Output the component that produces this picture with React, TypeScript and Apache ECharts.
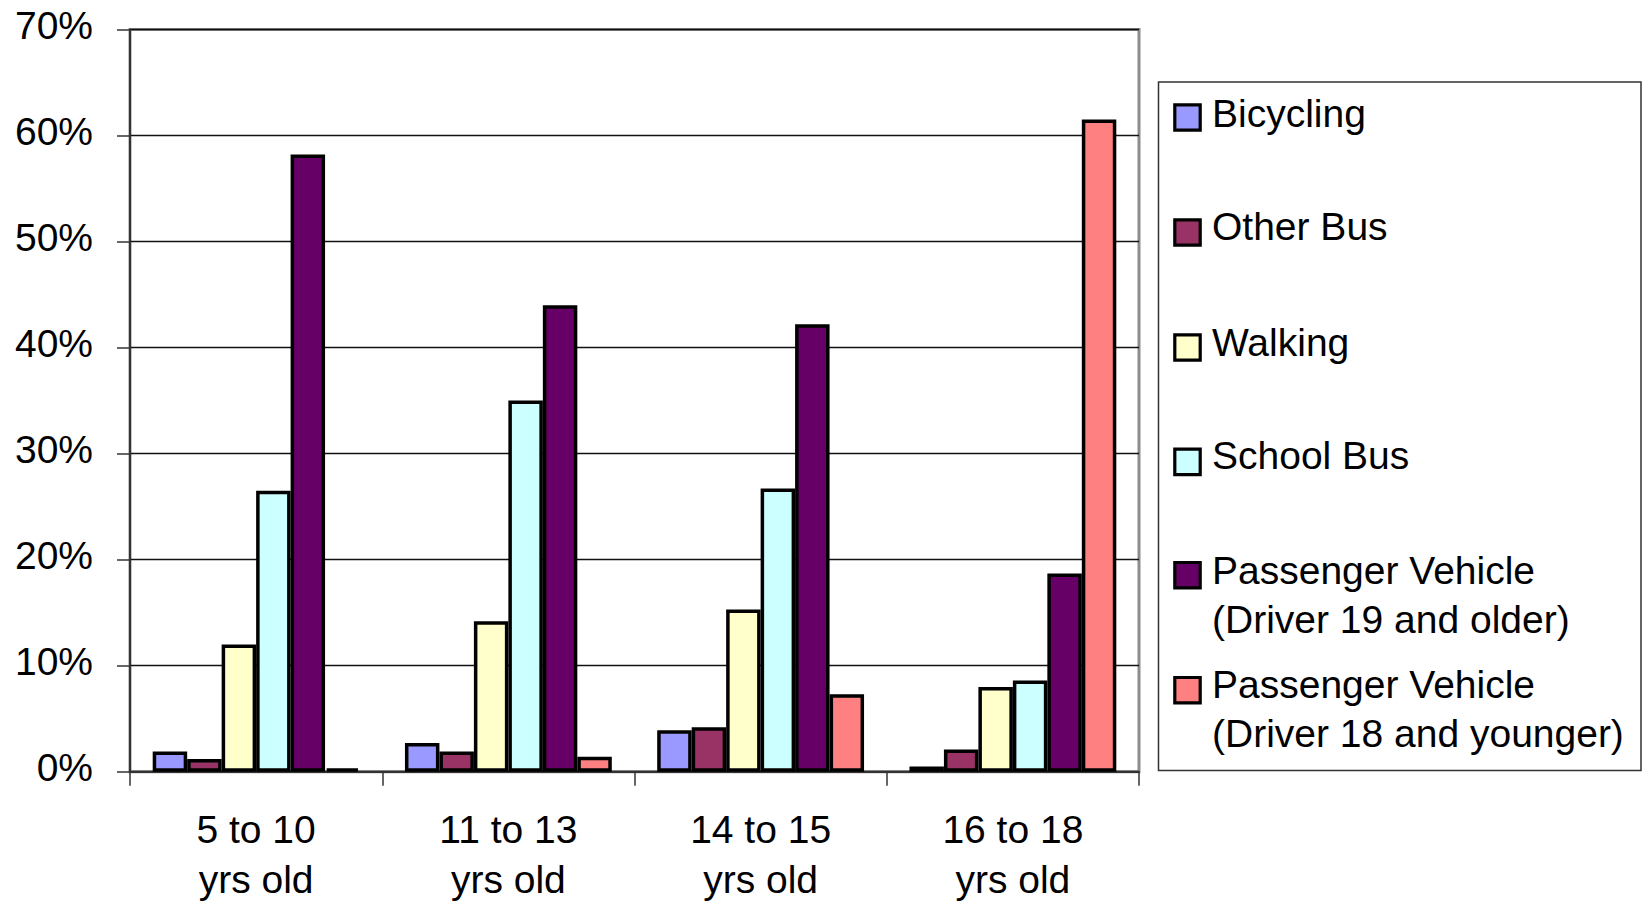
import React, { useEffect, useRef } from "react";
import * as echarts from "echarts";

const categories = ["5 to 10\nyrs old", "11 to 13\nyrs old", "14 to 15\nyrs old", "16 to 18\nyrs old"];
const seriesNames = [
  "Bicycling",
  "Other Bus",
  "Walking",
  "School Bus",
  "Passenger Vehicle\n(Driver 19 and older)",
  "Passenger Vehicle\n(Driver 18 and younger)",
];
const seriesColors = ["#9999FF", "#993366", "#FFFFCC", "#CCFFFF", "#660066", "#FF8080"];
const bicycling = [1.9, 2.7, 3.9, 0.5];
const otherBus = [1.2, 1.9, 4.2, 2.1];
const walking = [12.0, 14.2, 15.3, 8.0];
const schoolBus = [26.5, 35.0, 26.7, 8.6];
const pvOlder = [58.2, 44.0, 42.2, 18.7];
const pvYounger = [0.3, 1.4, 7.3, 61.5];
const seriesValues = [bicycling, otherBus, walking, schoolBus, pvOlder, pvYounger];

const FONT = "'Liberation Sans', Arial, sans-serif";

export default function App() {
  const ref = useRef<HTMLDivElement>(null);
  useEffect(() => {
    if (!ref.current) return;
    const chart = echarts.init(ref.current, null, { renderer: "svg" });

    // legend layout (graphic)
    const markerTops = [103.3, 218.3, 333.3, 447.7, 561, 676];
    const textBaselines = [126.7, 240, 355.7, 469, 584, 698.3];
    const legendGraphics: any[] = [
      {
        type: "rect",
        shape: { x: 1158.5, y: 82, width: 482.5, height: 688.5 },
        style: { fill: "#fff", stroke: "#333", lineWidth: 1.5 },
        z: 10,
      },
    ];
    seriesNames.forEach((name, i) => {
      legendGraphics.push({
        type: "rect",
        shape: { x: 1174.8, y: markerTops[i] + 1.5, width: 25.4, height: 25.4 },
        style: { fill: seriesColors[i], stroke: "#000", lineWidth: 3.2 },
        z: 11,
      });
      legendGraphics.push({
        type: "text",
        x: 1212,
        y: textBaselines[i] - 13.5 - 24.5,
        style: {
          text: name,
          font: `39px ${FONT}`,
          fontSize: 39,
          fontFamily: FONT,
          fill: "#000",
          lineHeight: 49,
          verticalAlign: "top",
          align: "left",
        },
        z: 11,
      });
    });

    chart.setOption({
      animation: false,
      backgroundColor: "#fff",
      grid: {
        left: 130,
        right: 505,
        top: 29.5,
        bottom: 131.3,
        containLabel: false,
        outerBoundsMode: "none",
        show: true,
        borderColor: "#8c8c8c",
        borderWidth: 3,
        backgroundColor: "transparent",
      },
      xAxis: {
        type: "category",
        data: categories,
        boundaryGap: true,
        axisLine: { show: true, lineStyle: { color: "#333", width: 2 } },
        axisTick: { show: true, alignWithLabel: false, interval: 0, length: 14, lineStyle: { color: "#333", width: 1.5 } },
        axisLabel: {
          interval: 0,
          margin: 33,
          fontSize: 39,
          fontFamily: FONT,
          color: "#000",
          lineHeight: 50,
        },
        splitLine: { show: false },
      },
      yAxis: {
        type: "value",
        min: 0,
        max: 70,
        interval: 10,
        axisLine: { show: true, lineStyle: { color: "#333", width: 2 } },
        axisTick: { show: true, length: 13, lineStyle: { color: "#333", width: 1.5 } },
        axisLabel: {
          formatter: "{value}%",
          margin: 37,
          fontSize: 39,
          fontFamily: FONT,
          color: "#000",
          verticalAlign: "bottom",
          lineHeight: 8,
        },
        splitLine: { show: true, lineStyle: { color: "#111", width: 1.3 } },
      },
      series: seriesNames.map((name, i) => ({
        name,
        type: "bar",
        data: seriesValues[i],
        barGap: "0%",
        barCategoryGap: "18%",
        itemStyle: { color: seriesColors[i], borderColor: "#000", borderWidth: 3.5 },
      })),
      graphic: legendGraphics,
    });
    return () => chart.dispose();
  }, []);
  return <div ref={ref} style={{ position: "absolute", left: 0, top: 0, width: 1644, height: 903 }} />;
}
